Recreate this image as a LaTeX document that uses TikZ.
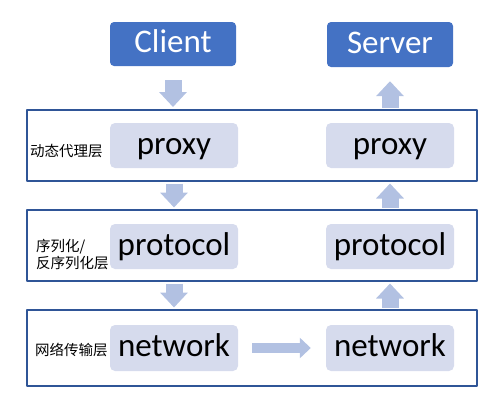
\documentclass[tikz,border=0pt]{standalone}
\usepackage{fontspec}
\setmainfont{Carlito}
\newfontfamily\cjk{Noto Sans CJK SC}
\usetikzlibrary{arrows.meta}
\definecolor{boxblue}{RGB}{68,114,196}
\definecolor{frameblue}{RGB}{47,85,151}
\definecolor{paleblue}{RGB}{214,219,237}
\definecolor{arrowblue}{RGB}{178,193,226}

\begin{document}
\begin{tikzpicture}[x=1pt,y=-1pt,line join=round,
  bigtext/.style={font=\fontsize{33}{33}\selectfont,text height=22pt,text depth=5pt},
  endbox/.style={bigtext,fill=boxblue,text=white,rounded corners=4pt,minimum width=126pt,minimum height=44pt},
  modbox/.style={bigtext,fill=paleblue,rounded corners=5pt,minimum width=128pt,minimum height=45pt},
  layer/.style={draw=frameblue,line width=2pt,minimum width=450pt},
  layertag/.style={anchor=west,inner sep=0pt,align=left,font=\cjk\fontsize{14.5}{17}\selectfont},
  flow/.style={arrowblue,line width=17pt,-{Triangle[width=27pt,length=15pt]}},
  sideflow/.style={arrowblue,line width=10pt,-{Triangle[width=20pt,length=11pt]}}]
  \useasboundingbox (0,0) rectangle (496,407);
  % layers
  \node[layer,minimum height=71pt] (layer1) at (252,145.5) {};
  \node[layer,minimum height=71pt] (layer2) at (252,245.5) {};
  \node[layer,minimum height=76pt] (layer3) at (252,348) {};
  \node[layertag] (tag1) at (30,151) {动态代理层};
  \node[layertag] (tag2) at (36,255) {序列化/\\反序列化层};
  \node[layertag] (tag3) at (35,350) {网络传输层};
  % end points
  \node[endbox] (client) at (173,44) {Client};
  \node[endbox,minimum height=45pt] (server) at (390,44.5) {Server};
  % modules
  \node[modbox] (proxyL) at (174,145.5) {proxy};
  \node[modbox] (proxyR) at (390,145.5) {proxy};
  \node[modbox] (protoL) at (174,246.5) {protocol};
  \node[modbox] (protoR) at (390,246.5) {protocol};
  \node[modbox,minimum height=46pt] (netL) at (174,348) {network};
  \node[modbox,minimum height=46pt] (netR) at (390,348) {network};
  % client side goes down
  \draw[flow,shorten <=14pt,shorten >=2pt] (client.south) -- (client.south |- layer1.north);
  \draw[flow,shorten <=1.5pt,shorten >=1.5pt] (proxyL.south |- layer1.south) -- (proxyL.south |- layer2.north);
  \draw[flow,shorten <=1.5pt,shorten >=1.5pt] (protoL.south |- layer2.south) -- (protoL.south |- layer3.north);
  % across the wire
  \draw[sideflow,shorten <=14pt,shorten >=15pt] (netL.east) -- (netR.west);
  % server side goes up
  \draw[flow,shorten <=1.5pt,shorten >=1.5pt] (netR.north |- layer3.north) -- (netR.north |- layer2.south);
  \draw[flow,shorten <=1.5pt,shorten >=1.5pt] (protoR.north |- layer2.north) -- (protoR.north |- layer1.south);
  \draw[flow,shorten <=1pt,shorten >=14pt] (proxyR.north |- layer1.north) -- (server.south);
\end{tikzpicture}
\end{document}
